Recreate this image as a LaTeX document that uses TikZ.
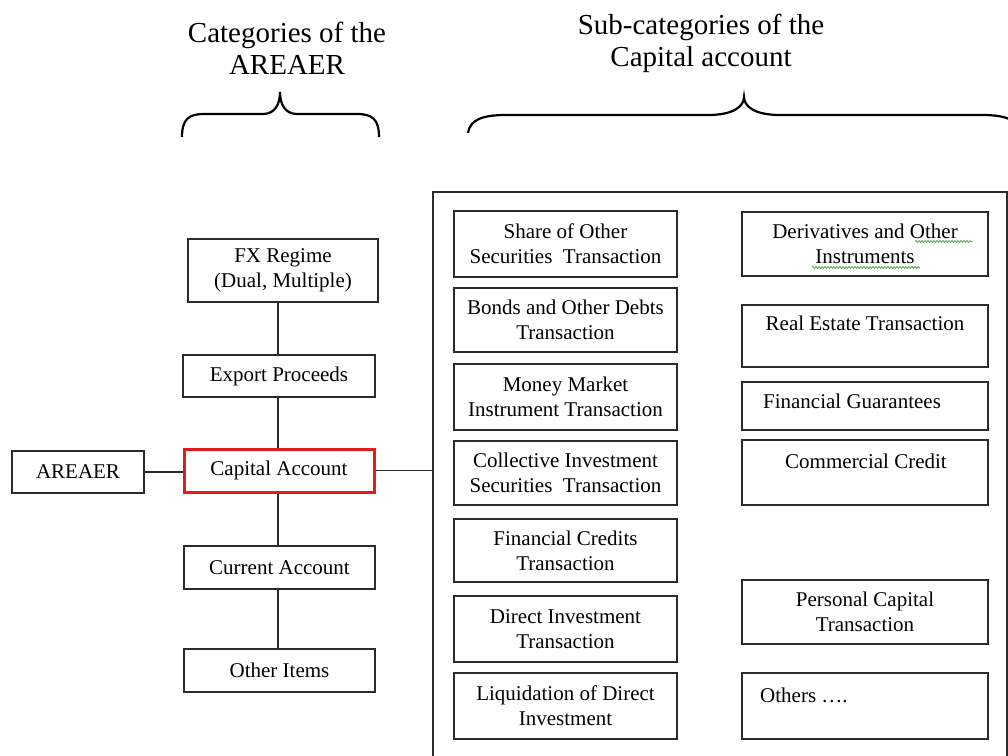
\documentclass[tikz,border=0pt]{standalone}
\usepackage{fontspec}
\setmainfont{Liberation Serif}
\usetikzlibrary{decorations.pathmorphing}
\definecolor{linegray}{HTML}{2B2B2B}
\definecolor{capred}{HTML}{E21B1B}
\definecolor{spellgreen}{HTML}{3DA33D}
\begin{document}
\begin{tikzpicture}[x=1pt,y=-1pt,
  box/.style={draw=linegray, line width=1.6pt, inner sep=0pt, align=center,
              font=\fontsize{21}{25}\selectfont},
  sz/.style 2 args={minimum width=#1pt, minimum height=#2pt},
  lbl/.style={inner sep=0pt, align=center, font=\fontsize{21}{25}\selectfont},
  title/.style={inner sep=0pt, align=center, font=\fontsize{29}{32}\selectfont},
  conn/.style={draw=linegray, line width=1.6pt},
  brace/.style={draw=black, line width=2.2pt},
  squiggle/.style={draw=spellgreen, line width=0.7pt, decorate,
                   decoration={snake, segment length=3pt, amplitude=1pt}}]
\useasboundingbox (0,0) rectangle (1008,755);
\clip (0,0) rectangle (1008,755);

% headings
\node[title] (t1) at (287,48) {Categories of the\\AREAER};
\node[title] (t2) at (701,43) {Sub-categories of the\\Capital account};

% braces
\draw[brace] (182,137) .. controls (182,119) and (189,114) .. (204,114)
  -- (263,114) .. controls (275,114) and (280,104) .. (280,92)
  .. controls (280,104) and (285,114) .. (297,114)
  -- (357,114) .. controls (372,114) and (379,119) .. (379,137);
\draw[brace] (468,133) .. controls (470,119) and (484,115) .. (506,115)
  -- (708,115) .. controls (734,115) and (744,106) .. (744,97)
  .. controls (744,106) and (754,115) .. (780,115)
  -- (982,115) .. controls (1004,115) and (1018,119) .. (1020,133);

% categories column
\node[box, sz={190}{63}] (fx) at (283,270.5) {FX Regime\\(Dual, Multiple)};
\node[box, sz={192}{42}] (exp) at (279,376) {Export Proceeds};
\node[box, sz={190}{43}, draw=capred, line width=3pt] (cap) at (279,470.5) {Capital Account};
\node[box, sz={132}{42}] (are) at (78,472) {AREAER};
\node[box, sz={191}{43}] (cur) at (279.5,567.5) {Current Account};
\node[box, sz={191}{43}] (oth) at (279.5,670.5) {Other Items};

% sub-categories panel
\node[draw=linegray, line width=1.6pt, inner sep=0pt, minimum width=574pt,
      minimum height=600pt, anchor=north west] (panel) at (432,191) {};

% left column of the panel
\node[box, sz={223}{66}] (sh) at (565.5,244) {Share of Other\\Securities~ Transaction};
\node[box, sz={223}{64}] (bo) at (565.5,320) {Bonds and Other Debts\\Transaction};
\node[box, sz={223}{66}] (mm) at (565.5,397) {Money Market\\Instrument Transaction};
\node[box, sz={223}{64}] (ci) at (565.5,473) {Collective Investment\\Securities~ Transaction};
\node[box, sz={223}{63}] (fc) at (565.5,550.5) {Financial Credits\\Transaction};
\node[box, sz={223}{66}] (di) at (565.5,629) {Direct Investment\\Transaction};
\node[box, sz={223}{66}] (li) at (565.5,706) {Liquidation of Direct\\Investment};

% right column of the panel
\node[box, sz={246}{64}] (de) at (865,244) {Derivatives and Other\\Instruments};
\node[box, sz={246}{62}] (re) at (865,336) {};
\node[lbl] (ret) at (865,323) {Real Estate Transaction};
\node[box, sz={246}{48}] (fg) at (865,406) {};
\node[lbl] (fgt) at (852,401) {Financial Guarantees};
\node[box, sz={246}{65}] (cc) at (865,472.5) {};
\node[lbl] (cct) at (866,461) {Commercial Credit};
\node[box, sz={246}{64}] (pc) at (865,612) {Personal Capital\\Transaction};
\node[box, sz={246}{66}] (ot) at (865,706) {};
\node[lbl, anchor=west] (ott) at (760,695) {Others ….};

% spelling marks under the derivatives label
\draw[squiggle] (915,241.5) -- (972,241.5);
\draw[squiggle] (812,267.5) -- (920,267.5);

% connectors
\coordinate (spine) at (278,0);
\draw[conn] (fx.south -| spine) -- (exp.north -| spine);
\draw[conn] (exp.south -| spine) -- (cap.north -| spine);
\draw[conn] (cap.south -| spine) -- (cur.north -| spine);
\draw[conn] (cur.south -| spine) -- (oth.north -| spine);
\draw[conn] (are.east) -- (are.east -| cap.west);
\draw[conn] (cap.east) -- (cap.east -| panel.west);
\end{tikzpicture}
\end{document}
